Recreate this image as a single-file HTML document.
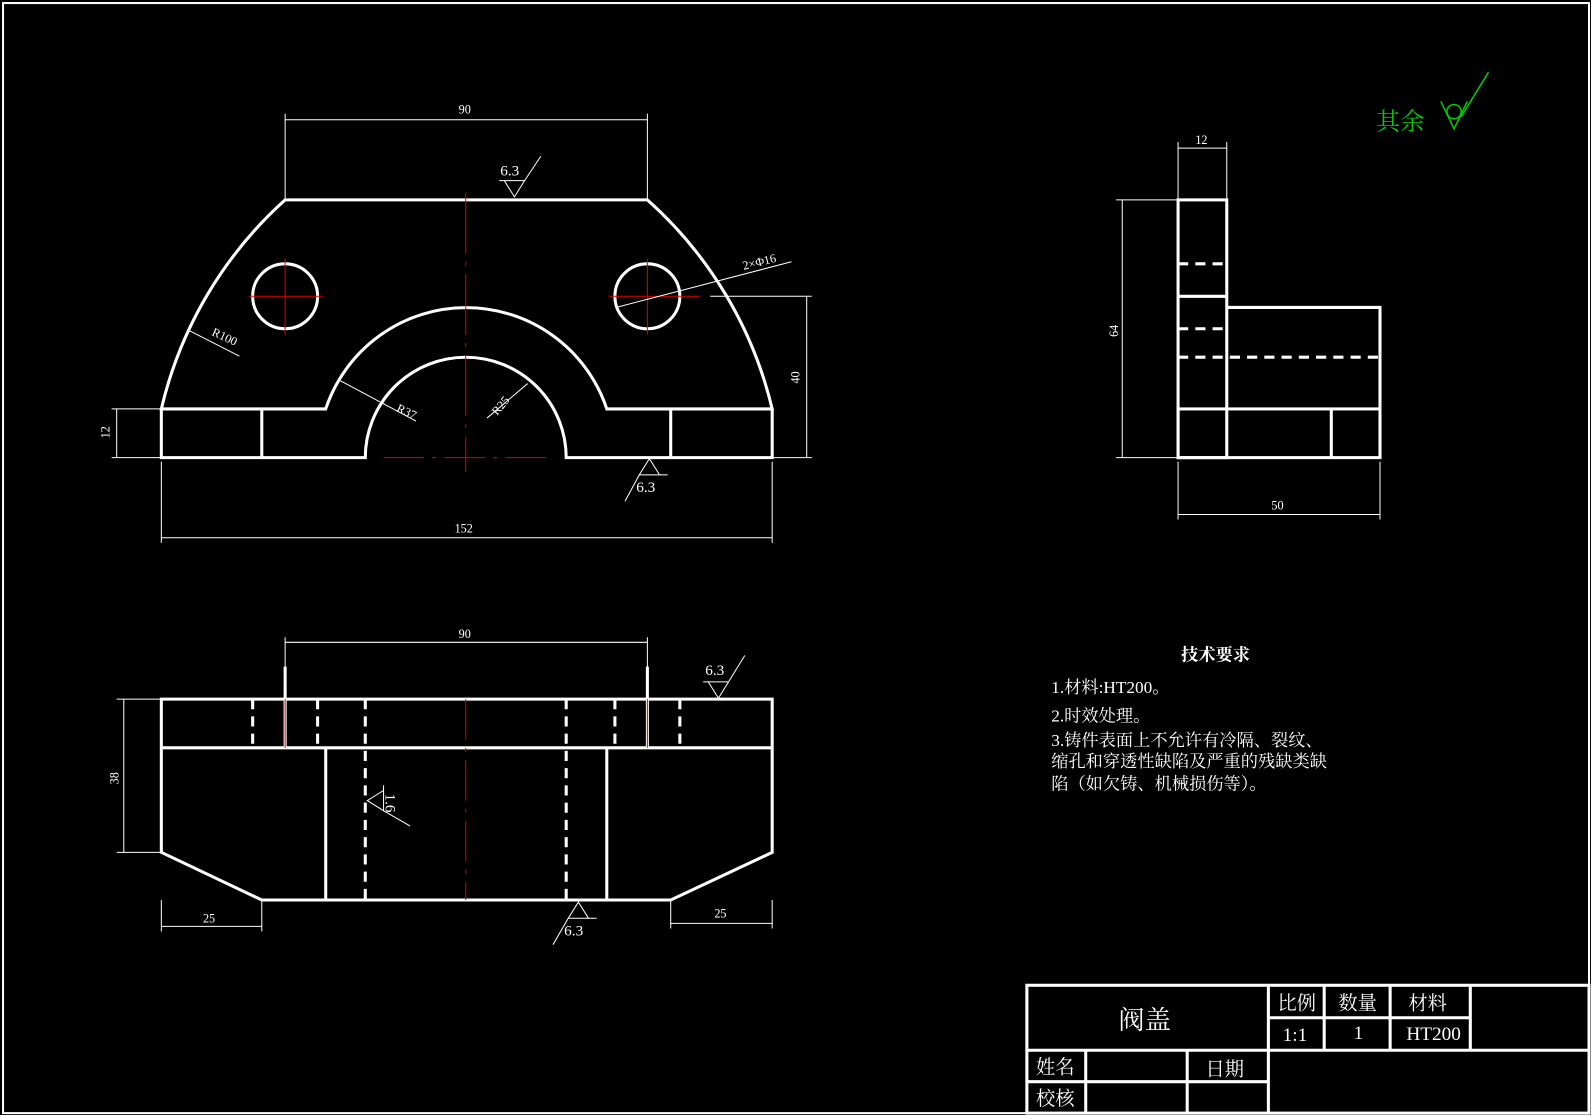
<!DOCTYPE html>
<html><head><meta charset="utf-8"><style>
html,body{margin:0;padding:0;background:#000;width:1591px;height:1115px;overflow:hidden}
svg{display:block}
text{font-family:"Liberation Serif","Noto Serif CJK SC","Noto Sans CJK SC",serif;fill:#fff}
</style></head><body>
<svg width="1591" height="1115" viewBox="0 0 1591 1115" xmlns="http://www.w3.org/2000/svg">
<rect x="0" y="0" width="1591" height="1115" fill="#000"/>
<g transform="scale(1.0147)">
<rect x="3" y="3" width="1563" height="1094" fill="none" stroke="#fff" stroke-width="2"/>

<!-- FRONT VIEW -->
<g fill="none" stroke="#fff" stroke-width="3">
<path d="M159,403 A400,400 0 0 1 281,197 L638,197 A400,400 0 0 1 761,403 L598,403 A146,146 0 0 0 321,403 Z"/>
<path d="M159,403 L159,451 L360,451 A99,99 0 0 1 558,451 L761,451 L761,403"/>
<line x1="258" y1="403" x2="258" y2="451"/>
<line x1="661" y1="403" x2="661" y2="451"/>
<circle cx="281" cy="292" r="32"/>
<circle cx="638" cy="292" r="32"/>
</g>
<g stroke="#d00" stroke-width="1">
<line x1="459" y1="190" x2="459" y2="465" stroke-dasharray="60,8,4,8"/>
<line x1="281" y1="255" x2="281" y2="330"/><line x1="245" y1="292" x2="318" y2="292"/>
<line x1="638" y1="255" x2="638" y2="330"/><line x1="600" y1="292" x2="690" y2="292"/>
<line x1="378" y1="451" x2="540" y2="451" stroke-dasharray="40,8,4,8"/>
</g>
<g stroke="#fff" stroke-width="1" fill="none">
<line x1="281" y1="112" x2="281" y2="197"/><line x1="638" y1="112" x2="638" y2="197"/>
<line x1="281" y1="118" x2="638" y2="118"/>
<line x1="159" y1="455" x2="159" y2="535"/><line x1="761" y1="455" x2="761" y2="535"/>
<line x1="159" y1="530" x2="761" y2="530"/>
<line x1="110" y1="403" x2="159" y2="403"/><line x1="110" y1="451" x2="159" y2="451"/>
<line x1="115" y1="403" x2="115" y2="451"/>
<line x1="700" y1="292" x2="800" y2="292"/><line x1="761" y1="451" x2="800" y2="451"/>
<line x1="795" y1="292" x2="795" y2="451"/>
<line x1="185" y1="325" x2="236" y2="351"/>
<line x1="335" y1="375" x2="410" y2="415"/>
<line x1="520" y1="378" x2="480" y2="412"/>
<line x1="607" y1="303" x2="780" y2="258"/>
<path d="M497,178 L507,194 L517,178 Z M517,178 L533,154 M492,178 L517,178"/>
<path d="M630,468 L640,452 L650,468 Z M630,468 L616,494 M650,468 L658,468"/>
</g>
<g font-size="12">
<text x="452" y="112">90</text>
<text x="448" y="525">152</text>
<text x="108" y="432" transform="rotate(-90 108 432)">12</text>
<text x="788" y="378" transform="rotate(-90 788 378)">40</text>
<text x="208" y="330" transform="rotate(25 208 330)">R100</text>
<text x="390" y="405" transform="rotate(25 390 405)">R37</text>
<text x="490" y="410" transform="rotate(-50 490 410)">R25</text>
<text x="733" y="266" transform="rotate(-14 733 266)">2×Φ16</text>
</g>
<text x="493" y="173" font-size="15">6.3</text>
<text x="627" y="485" font-size="15">6.3</text>

<!-- BOTTOM VIEW -->
<g fill="none" stroke="#fff" stroke-width="3">
<path d="M159,689 L761,689 L761,840 L661,887 L258,887 L159,840 Z"/>
<line x1="159" y1="737" x2="761" y2="737"/>
<line x1="321" y1="737" x2="321" y2="887"/>
<line x1="598" y1="737" x2="598" y2="887"/>
<line x1="281" y1="657" x2="281" y2="737"/>
<line x1="638" y1="657" x2="638" y2="737"/>
<g stroke-dasharray="10,7">
<line x1="360" y1="689" x2="360" y2="887"/>
<line x1="558" y1="689" x2="558" y2="887"/>
<line x1="249" y1="689" x2="249" y2="737"/>
<line x1="313" y1="689" x2="313" y2="737"/>
<line x1="606" y1="689" x2="606" y2="737"/>
<line x1="670" y1="689" x2="670" y2="737"/>
</g>
</g>
<g stroke="#d00" stroke-width="1">
<line x1="459" y1="689" x2="459" y2="887" stroke-dasharray="40,8,4,8"/>
<line x1="281" y1="689" x2="281" y2="737"/><line x1="638" y1="689" x2="638" y2="737"/>
</g>
<g stroke="#fff" stroke-width="1" fill="none">
<line x1="281" y1="633" x2="638" y2="633"/><line x1="281" y1="628" x2="281" y2="660"/><line x1="638" y1="628" x2="638" y2="660"/>
<line x1="115" y1="689" x2="159" y2="689"/><line x1="115" y1="840" x2="159" y2="840"/>
<line x1="122" y1="689" x2="122" y2="840"/>
<line x1="159" y1="887" x2="159" y2="918"/><line x1="258" y1="887" x2="258" y2="918"/>
<line x1="159" y1="913" x2="258" y2="913"/>
<line x1="661" y1="887" x2="661" y2="915"/><line x1="761" y1="887" x2="761" y2="915"/>
<line x1="661" y1="910" x2="761" y2="910"/>
<path d="M698,672 L708,688 L718,672 Z M718,672 L734,646 M693,672 L718,672"/>
<path d="M560,905 L570,889 L580,905 Z M560,905 L545,931 M580,905 L588,905"/>
<path d="M378,779 L362,789 L378,799 Z M378,799 L404,814 M378,774 L378,799"/>
</g>
<g font-size="12">
<text x="452" y="629">90</text>
<text x="200" y="909">25</text>
<text x="704" y="904">25</text>
<text x="117" y="773" transform="rotate(-90 117 773)">38</text>
</g>
<text x="695" y="665" font-size="15">6.3</text>
<text x="556" y="922" font-size="15">6.3</text>
<text x="380" y="782" font-size="15" transform="rotate(90 380 782)">1.6</text>

<!-- SIDE VIEW -->
<g fill="none" stroke="#fff" stroke-width="3">
<rect x="1161" y="197" width="48" height="254"/>
<line x1="1161" y1="292" x2="1209" y2="292"/>
<rect x="1161" y="403" width="199" height="48"/>
<line x1="1312" y1="403" x2="1312" y2="451"/>
<path d="M1209,303 L1360,303 L1360,403"/>
<g stroke-dasharray="10,7">
<line x1="1161" y1="260" x2="1209" y2="260"/>
<line x1="1161" y1="324" x2="1209" y2="324"/>
<line x1="1161" y1="352" x2="1360" y2="352"/>
</g>
</g>
<g stroke="#fff" stroke-width="1">
<line x1="1161" y1="140" x2="1161" y2="197"/><line x1="1209" y1="140" x2="1209" y2="197"/>
<line x1="1161" y1="146" x2="1209" y2="146"/>
<line x1="1100" y1="197" x2="1161" y2="197"/><line x1="1100" y1="451" x2="1161" y2="451"/>
<line x1="1106" y1="197" x2="1106" y2="451"/>
<line x1="1161" y1="455" x2="1161" y2="512"/><line x1="1360" y1="455" x2="1360" y2="512"/>
<line x1="1161" y1="507" x2="1360" y2="507"/>
</g>
<g font-size="12">
<text x="1178" y="142">12</text>
<text x="1102" y="332" transform="rotate(-90 1102 332)">64</text>
<text x="1253" y="502">50</text>
</g>

<!-- 其余 -->
<text x="1356" y="128" font-size="24" style="fill:#0c0">其余</text>
<g stroke="#0c0" stroke-width="1.5" fill="none">
<path d="M1420,100 L1433,127 L1446,100"/>
<circle cx="1433" cy="110" r="7"/>
<line x1="1440" y1="115" x2="1467" y2="71"/>
</g>

<!-- tech requirements -->
<g font-size="17">
<text x="1164" y="651" font-weight="bold">技术要求</text>
<text x="1036" y="683">1.材料:HT200。</text>
<text x="1036" y="711">2.时效处理。</text>
<text x="1036" y="735">3.铸件表面上不允许有冷隔、裂纹、</text>
<text x="1036" y="756">缩孔和穿透性缺陷及严重的残缺类缺</text>
<text x="1036" y="778">陷（如欠铸、机械损伤等）。</text>
</g>

<!-- title block -->
<g stroke="#fff" stroke-width="3" fill="none">
<rect x="1012" y="971" width="554" height="126"/>
<line x1="1012" y1="1035" x2="1566" y2="1035"/>
<line x1="1250" y1="971" x2="1250" y2="1097"/>
<line x1="1250" y1="1003" x2="1449" y2="1003"/>
<line x1="1305" y1="971" x2="1305" y2="1035"/>
<line x1="1370" y1="971" x2="1370" y2="1035"/>
<line x1="1449" y1="971" x2="1449" y2="1035"/>
<line x1="1012" y1="1066" x2="1250" y2="1066"/>
<line x1="1070" y1="1035" x2="1070" y2="1097"/>
<line x1="1170" y1="1035" x2="1170" y2="1097"/>
</g>
<g font-size="19">
<text x="1102" y="1014" font-size="26">阀盖</text>
<text x="1259" y="995">比例</text>
<text x="1319" y="995">数量</text>
<text x="1388" y="995">材料</text>
<text x="1264" y="1026">1:1</text>
<text x="1334" y="1024">1</text>
<text x="1386" y="1025">HT200</text>
<text x="1021" y="1058">姓名</text>
<text x="1188" y="1060">日期</text>
<text x="1021" y="1089">校核</text>
</g>
</g>
</svg>
</body></html>
